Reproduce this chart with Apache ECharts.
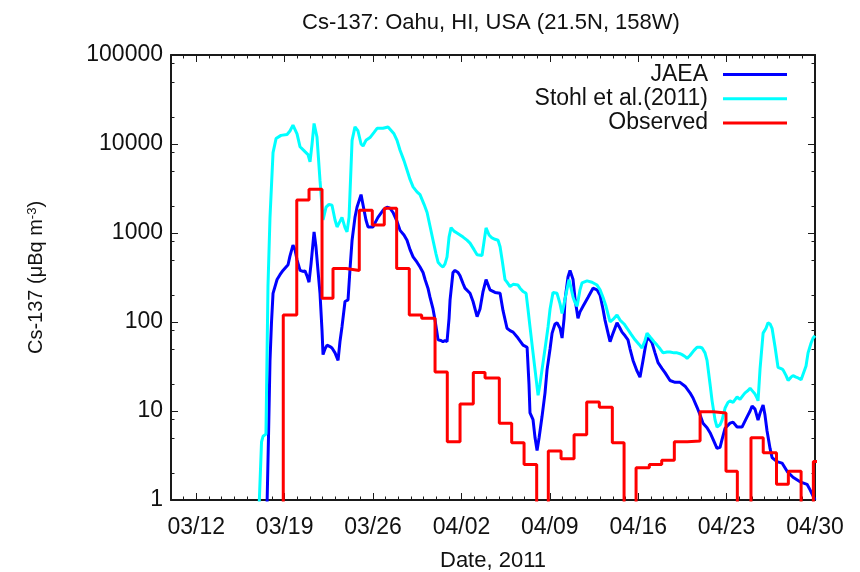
<!DOCTYPE html>
<html><head><meta charset="utf-8">
<script src="https://cdn.jsdelivr.net/npm/echarts@6/dist/echarts.min.js"></script>
<style>html,body{margin:0;padding:0;background:#fff}#c{width:860px;height:572px}</style>
</head><body><div id="c"></div>
<script>
// x values: day of March 2011 (32 = 04/01, 61 = 04/30)
const xTickDays = [12, 19, 26, 33, 40, 47, 54, 61];
const xTickLabels = ['03/12', '03/19', '03/26', '04/02', '04/09', '04/16', '04/23', '04/30'];
const yTickValues = [1, 10, 100, 1000, 10000, 100000];
const yTickLabels = ['1', '10', '100', '1000', '10000', '100000'];
const yMinorValues = [2, 5, 8, 20, 50, 80, 200, 500, 800, 2000, 5000, 8000, 20000, 50000, 80000];

const jaeaDay = [17.60,17.72,17.84,17.96,18.08,18.40,18.63,18.87,19.27,19.42,19.66,19.82,19.98,20.22,20.45,20.61,20.77,20.93,21.09,21.33,21.48,21.64,21.80,21.96,22.04,22.20,22.36,22.59,22.75,22.99,23.23,23.38,23.54,23.78,24.02,24.18,24.34,24.57,24.73,25.05,25.29,25.44,25.60,26.00,26.16,26.39,26.79,27.11,27.34,27.58,27.90,28.14,28.45,28.69,28.93,29.17,29.48,29.72,29.96,30.12,30.35,30.51,30.75,30.91,31.07,31.15,31.38,31.54,31.70,31.86,32.02,32.10,32.33,32.49,32.73,32.89,33.13,33.28,33.68,33.92,34.24,34.47,34.71,34.95,35.26,35.66,36.06,36.29,36.61,36.85,37.09,37.48,37.88,38.20,38.35,38.43,38.67,38.83,38.99,39.15,39.38,39.62,39.78,40.02,40.18,40.41,40.57,40.81,40.97,41.13,41.20,41.44,41.60,41.84,42.00,42.23,42.39,42.63,43.03,43.42,43.74,43.98,44.21,44.37,44.61,44.77,45.01,45.32,45.56,45.72,45.96,46.19,46.35,46.59,46.91,47.14,47.38,47.54,47.70,47.94,48.10,48.33,48.57,48.89,49.12,49.52,49.92,50.31,50.71,51.10,51.34,51.66,51.90,52.13,52.45,52.69,52.93,53.24,53.48,53.64,53.88,54.27,54.51,54.83,55.22,55.62,55.86,56.02,56.25,56.49,56.65,56.89,57.04,57.20,57.44,57.60,57.99,58.39,58.79,59.26,59.82,60.37,60.61,61.00];
const jaeaVal = [0.8,5,37,100,210,300,340,380,440,550,730,650,500,380,370,375,330,280,450,1030,700,380,210,80,43,50,55,53,51,45,37,60,88,170,177,400,830,1500,1950,2700,1800,1400,1170,1170,1300,1500,1800,1950,1900,1700,1350,1070,950,830,650,540,470,415,360,300,240,190,140,105,75,63,62,60,62,60,110,177,360,380,360,330,270,240,210,170,115,140,220,300,230,215,210,135,85,80,77,66,55,52,20,9.5,8,5,3.6,5,8.6,16,29,50,75,95,98,85,66,110,177,320,380,300,180,110,130,150,190,240,230,200,140,105,75,60,75,98,85,77,70,63,50,37,28,24,37,50,66,63,58,45,35,30,27,22,21,21,19,16,14,11,9,7.3,6.5,5.7,4.8,3.8,3.9,4.8,6.4,7.3,7.5,6.6,6.6,8.6,10,11.4,10.5,7.9,9.5,11.7,9,6,3.8,3.0,2.7,2.6,2.1,1.8,1.6,1.5,1.3,1.0];

const stohlDay = [16.97,17.17,17.29,17.52,17.68,17.84,18.08,18.32,18.71,19.19,19.42,19.66,19.98,20.22,20.61,20.85,21.01,21.17,21.33,21.56,21.80,22.04,22.28,22.51,22.75,22.99,23.15,23.38,23.54,23.78,23.94,24.10,24.34,24.57,24.81,25.05,25.21,25.44,25.76,26.08,26.32,26.79,27.19,27.34,27.66,27.90,28.14,28.45,28.69,28.93,29.17,29.48,29.72,30.04,30.28,30.51,30.75,30.99,31.15,31.38,31.54,31.70,31.86,32.02,32.18,32.41,32.65,32.89,33.13,33.44,33.68,34.00,34.24,34.63,34.79,34.95,35.19,35.42,35.66,35.90,36.06,36.22,36.45,36.61,36.85,37.09,37.24,37.48,37.64,37.88,38.12,38.27,38.43,38.67,38.83,39.07,39.22,39.38,39.62,39.86,40.02,40.25,40.57,40.81,40.97,41.20,41.52,41.68,41.84,42.00,42.16,42.39,42.55,42.95,43.34,43.74,43.98,44.21,44.45,44.77,45.09,45.32,45.56,45.88,46.12,46.43,46.75,47.07,47.30,47.54,47.70,47.94,48.25,48.49,48.73,48.97,49.28,49.52,49.84,50.08,50.31,50.47,50.71,50.87,51.10,51.42,51.66,51.90,52.06,52.29,52.45,52.69,52.85,53.08,53.24,53.48,53.64,53.88,54.11,54.27,54.51,54.83,55.06,55.30,55.46,55.70,55.86,56.09,56.25,56.41,56.49,56.65,56.89,57.12,57.28,57.44,57.60,57.84,58.07,58.31,58.47,58.71,58.87,59.10,59.26,59.50,59.66,59.90,60.05,60.29,60.45,60.69,60.85,61.00];
const stohlVal = [0.8,4.5,5.2,5.5,250,1500,8000,11500,12500,12800,14000,16300,13000,9300,8200,7600,6300,10000,17000,12000,3900,1400,1950,2100,2050,1400,1170,1350,1500,1150,1030,1500,11000,15600,14000,10000,9500,11000,11800,13500,15000,15000,15500,15600,13000,11000,8500,6500,5100,4000,3300,2900,2700,2100,1700,1200,830,580,470,430,415,450,540,900,1150,1050,1000,950,900,830,770,650,570,560,800,1140,950,880,850,830,700,500,300,280,250,265,275,260,240,220,210,140,88,45,29,15,20,29,50,88,140,215,210,160,125,180,300,240,190,165,150,230,275,290,280,260,230,190,150,100,110,120,105,95,85,73,63,56,51,62,75,68,60,55,50,45,46,46,45,45,44,43,41,39,42,48,52,52,51,45,37,20,13,8,6.6,7,7.9,10.8,12.5,13,12.5,14.4,13.5,15,16,17,18,16.5,15.5,14,13,30,75,85,98,95,85,52,31,30,29,25,22,24,25,24,23.5,22.5,22,32,45,58,66,70];

// Observed: value i holds from obsEdges[i] to obsEdges[i+1]; null = below the plotted range
const obsEdges = [17.9,18.89,19.96,20.93,21.96,22.83,23.86,24.91,25.94,26.89,27.87,28.87,29.85,30.91,31.88,32.89,33.94,34.87,36.0,36.98,37.96,38.96,39.88,40.89,41.92,42.92,43.92,44.95,45.88,46.83,47.88,48.86,49.86,50.89,51.9,52.95,53.95,54.85,55.93,56.9,57.95,58.89,59.9,60.87,61.9];
const obsVal = [null,120,2350,3100,185,400,380,1800,1230,1900,400,120,110,27.5,4.5,12,27,23.5,7.3,4.4,2.5,null,3.55,2.9,5.4,12.6,11,4.4,null,2.3,2.5,2.8,4.5,4.6,9.8,9.5,2.1,null,5,3.4,1.5,2.1,null,2.7];

const BELOW = 0.3; // drawn under the axis floor, clipped
const pairs = (xs, ys) => xs.map((x, i) => [x, ys[i]]);
const obsData = obsVal.map((v, i) => [obsEdges[i], v == null ? BELOW : v]);
obsData.push([obsEdges[obsEdges.length - 1], obsVal[obsVal.length - 1] == null ? BELOW : obsVal[obsVal.length - 1]]);

const FONT = '"Liberation Sans", Arial, sans-serif';
const AX = '#1a1a1a';
const line = { show: true, onZero: false, lineStyle: { color: AX, width: 2 } };
const noLine = { show: false, onZero: false };
const xBase = { type: 'value', min: 10, max: 61, splitLine: { show: false } };
const tickStyle = { color: AX, width: 1 };
const xLabel = v => { const i = xTickDays.indexOf(Math.round(v)); return (i >= 0 && Math.abs(v - xTickDays[i]) < 1e-6) ? xTickLabels[i] : ''; };
const yLabel = v => { const i = yTickValues.findIndex(t => Math.abs(t - v) < 1e-6 * t); return i >= 0 ? yTickLabels[i] : ''; };
const minorLog = yMinorValues.map(v => Math.log10(v));

const chart = echarts.init(document.getElementById('c'));
chart.setOption({
  animation: false,
  backgroundColor: '#fff',
  textStyle: { fontFamily: FONT },
  title: {
    text: 'Cs-137: Oahu, HI, USA (21.5N, 158W)',
    left: 486, top: 7, textAlign: 'center',
    textStyle: { fontFamily: FONT, fontSize: 22, fontWeight: 'normal', color: '#111' }
  },
  legend: {
    orient: 'vertical', align: 'right', right: 73, top: 63, padding: 0,
    icon: 'rect', itemWidth: 64, itemHeight: 3, itemGap: 1.3,
    selectedMode: false,
    textStyle: { fontFamily: FONT, fontSize: 23, color: '#111', lineHeight: 22, padding: [0, 10, 0, 0] },
    data: ['JAEA', 'Stohl et al.(2011)', 'Observed']
  },
  grid: { left: 171, right: 45, top: 55, bottom: 72, containLabel: false, outerBoundsMode: 'none' },
  xAxis: [
    Object.assign({}, xBase, {
      position: 'bottom', interval: 1, axisLine: line,
      axisTick: { inside: true, length: 3.5, lineStyle: tickStyle },
      axisLabel: { formatter: xLabel, fontFamily: FONT, fontSize: 23, color: '#111', margin: 16, showMinLabel: true, showMaxLabel: true, hideOverlap: false },
      name: 'Date, 2011', nameLocation: 'middle', nameGap: 50,
      nameTextStyle: { fontFamily: FONT, fontSize: 22, color: '#111' }
    }),
    Object.assign({}, xBase, {
      position: 'bottom', axisLine: noLine,
      axisTick: { inside: true, length: 7, lineStyle: tickStyle, customValues: xTickDays },
      axisLabel: { show: false }
    }),
    Object.assign({}, xBase, {
      position: 'top', interval: 1, axisLine: line,
      axisTick: { inside: true, length: 3.5, lineStyle: tickStyle },
      axisLabel: { show: false }
    }),
    Object.assign({}, xBase, {
      position: 'top', axisLine: noLine,
      axisTick: { inside: true, length: 7, lineStyle: tickStyle, customValues: xTickDays },
      axisLabel: { show: false }
    })
  ],
  yAxis: [
    {
      type: 'log', logBase: 10, min: 1, max: 100000, position: 'left',
      axisLine: line, splitLine: { show: false },
      axisTick: { inside: true, length: 7, lineStyle: tickStyle },
      axisLabel: { formatter: yLabel, fontFamily: FONT, fontSize: 23, color: '#111', margin: 8 },
      name: '{a|Cs-137 (\u03bcBq m}{s|-3}{a|)}', nameLocation: 'middle', nameRotate: 90, nameGap: 125,
      nameTextStyle: { rich: { a: { fontFamily: FONT, fontSize: 20, color: '#111' }, s: { fontFamily: FONT, fontSize: 13, color: '#111', verticalAlign: 'top' } } }
    },
    {
      type: 'value', min: 0, max: 5, position: 'left',
      axisLine: noLine, splitLine: { show: false },
      axisTick: { inside: true, length: 3.5, lineStyle: tickStyle, customValues: minorLog },
      axisLabel: { show: false }
    },
    {
      type: 'log', logBase: 10, min: 1, max: 100000, position: 'right',
      axisLine: line, splitLine: { show: false },
      axisTick: { inside: true, length: 7, lineStyle: tickStyle },
      axisLabel: { show: false }
    },
    {
      type: 'value', min: 0, max: 5, position: 'right',
      axisLine: noLine, splitLine: { show: false },
      axisTick: { inside: true, length: 3.5, lineStyle: tickStyle, customValues: minorLog },
      axisLabel: { show: false }
    }
  ],
  series: [
    { name: 'JAEA', type: 'line', xAxisIndex: 0, yAxisIndex: 0, data: pairs(jaeaDay, jaeaVal), showSymbol: false, symbol: 'none', clip: true, color: '#0000ff', lineStyle: { width: 3, color: '#0000ff' } },
    { name: 'Stohl et al.(2011)', type: 'line', xAxisIndex: 0, yAxisIndex: 0, data: pairs(stohlDay, stohlVal), showSymbol: false, symbol: 'none', clip: true, color: '#00ffff', lineStyle: { width: 3, color: '#00ffff' } },
    { name: 'Observed', type: 'line', step: 'end', xAxisIndex: 0, yAxisIndex: 0, data: obsData, showSymbol: false, symbol: 'none', clip: true, color: '#ff0000', lineStyle: { width: 3, color: '#ff0000' } }
  ]
});
</script>
</body></html>
